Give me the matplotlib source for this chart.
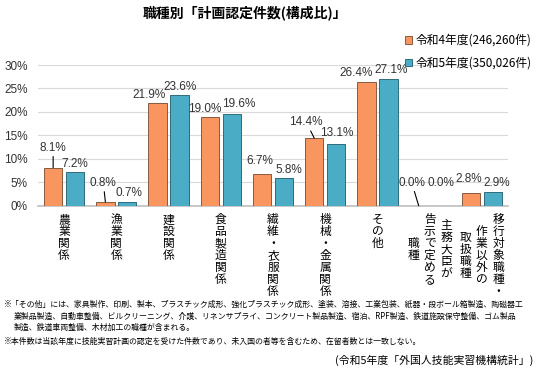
import matplotlib
matplotlib.use("Agg")
import matplotlib.pyplot as plt
from matplotlib import font_manager
import numpy as np

# data
categories = [
    ["農業関係"],
    ["漁業関係"],
    ["建設関係"],
    ["食品製造関係"],
    ["繊維・衣服関係"],
    ["機械・金属関係"],
    ["その他"],
    ["主務大臣が", "告示で定める", "職種"],
    ["移行対象職種・", "作業以外の", "取扱職種"],
]
r4_share = [8.1, 0.8, 21.9, 19.0, 6.7, 14.4, 26.4, 0.0, 2.8]
r5_share = [7.2, 0.7, 23.6, 19.6, 5.8, 13.1, 27.1, 0.0, 2.9]
series_names = ["令和4年度(246,260件)", "令和5年度(350,026件)"]
yticks = [0, 5, 10, 15, 20, 25, 30]

# label nudges in pixels (dx, dy of label centre from bar top), leader flag
r4_nudge = [(0, 20, True), (-2, 19, True), (-9, 8, False), (-5, 8, False), (-2, 13, False),
            (-8, 16, True), (-10, 9, False), (-7, 23, True), (-2, 14, False)]
r5_nudge = [(0, 8, False), (2, 9, False), (1, 8, False), (7, 10, False), (5, 8, False),
            (1, 11, False), (3, 9, False), (0, 23, False), (4, 9, False)]

JP = ["Noto Sans CJK JP", "DejaVu Sans"]
names = {f.name for f in font_manager.fontManager.ttflist}
NUM = ["Liberation Sans Narrow", "Noto Sans CJK JP"] if "Liberation Sans Narrow" in names else ["Liberation Sans", "Noto Sans CJK JP"]
plt.rcParams["font.family"] = JP

orange = "#F9955E"
blue = "#4BACC6"
txt = "#333333"
PX = 0.72  # points per pixel at dpi 100

fig = plt.figure(figsize=(5.38, 3.72), dpi=100)
ax = fig.add_axes([38 / 538, 1 - 205.7 / 372, 470 / 538, 140.7 / 372])

x = np.arange(len(categories))
w = 0.35
off = 0.21
b1 = ax.bar(x - off, r4_share, w, color=orange, edgecolor="#8A5A40", linewidth=0.7,
            label=series_names[0], zorder=3)
b2 = ax.bar(x + off, r5_share, w, color=blue, edgecolor="#2F6B7C", linewidth=0.7,
            label=series_names[1], zorder=3)

ax.set_xlim(-0.5, len(categories) - 0.5)
ax.set_ylim(0, 30)
ax.set_yticks(yticks)
ax.set_yticklabels([f"{t}%" for t in yticks], fontsize=8.5, color=txt, family=NUM)
ax.set_xticks([])
ax.tick_params(axis="y", length=0, pad=7.5)
for s in ["top", "right", "left"]:
    ax.spines[s].set_visible(False)
ax.spines["bottom"].set_color("#BFBFBF")
ax.spines["bottom"].set_linewidth(1.2)
ax.grid(axis="y", color="#D9D9D9", linewidth=0.8, zorder=0)
ax.set_axisbelow(True)

# data labels
for vals, nudges, xs in [(r4_share, r4_nudge, x - off), (r5_share, r5_nudge, x + off)]:
    for xi, v, (dx, dy, lead) in zip(xs, vals, nudges):
        props = dict(arrowstyle="-", color="black", linewidth=0.8, shrinkA=0, shrinkB=0) if lead else None
        ax.annotate(f"{v:.1f}%", xy=(xi, v), xytext=(dx * PX, dy * PX), textcoords="offset points",
                    ha="center", va="center", fontsize=8.5, color=txt, family=NUM,
                    arrowprops=props, zorder=4)

# vertical category labels
step = 12.0
col_gap = 16.5
top = 8.0
for xi, cols in zip(x, categories):
    n = len(cols)
    maxlen = max(len(c) for c in cols)
    cy = top + maxlen * step / 2
    for j, col in enumerate(cols):
        dx = ((n - 1) / 2 - j) * col_gap
        y0 = cy - (len(col) - 1) * step / 2
        for k, ch in enumerate(col):
            ax.annotate(ch, xy=(xi, 0), xycoords=("data", "axes fraction"),
                        xytext=(dx * PX, -(y0 + k * step) * PX), textcoords="offset points",
                        ha="center", va="center", fontsize=8.5, color="black")

# legend
fig.legend(handles=[b1, b2], labels=series_names, loc="upper left",
           bbox_to_anchor=(405 / 538, 1 - 34 / 372), frameon=False, fontsize=8.5,
           handlelength=0.6, handleheight=0.6, handletextpad=0.3, labelspacing=0.8,
           borderaxespad=0, borderpad=0)

# title and notes
fig.text(245 / 538, 1 - 13 / 372, "職種別「計画認定件数(構成比)」", ha="center", va="center",
         fontsize=10, fontweight="bold", color="black")

notes = [
    (4, 304.5, "※「その他」には、家具製作、印刷、製本、プラスチック成形、強化プラスチック成形、塗装、溶接、工業包装、紙器・段ボール箱製造、陶磁器工"),
    (14, 316, "業製品製造、自動車整備、ビルクリーニング、介護、リネンサプライ、コンクリート製品製造、宿泊、RPF製造、鉄道施設保守整備、ゴム製品"),
    (14, 327.5, "製造、鉄道車両整備、木材加工の職種が含まれる。"),
    (4, 341, "※本件数は当該年度に技能実習計画の認定を受けた件数であり、未入国の者等を含むため、在留者数とは一致しない。"),
]
for nx, ny, s in notes:
    fig.text(nx / 538, 1 - ny / 372, s, ha="left", va="center", fontsize=5.7, color="black")

fig.text(533 / 538, 1 - 360 / 372, "(令和5年度「外国人技能実習機構統計」)", ha="right", va="center",
         fontsize=7.8, color="black")

fig.savefig("out.png", dpi=100)
